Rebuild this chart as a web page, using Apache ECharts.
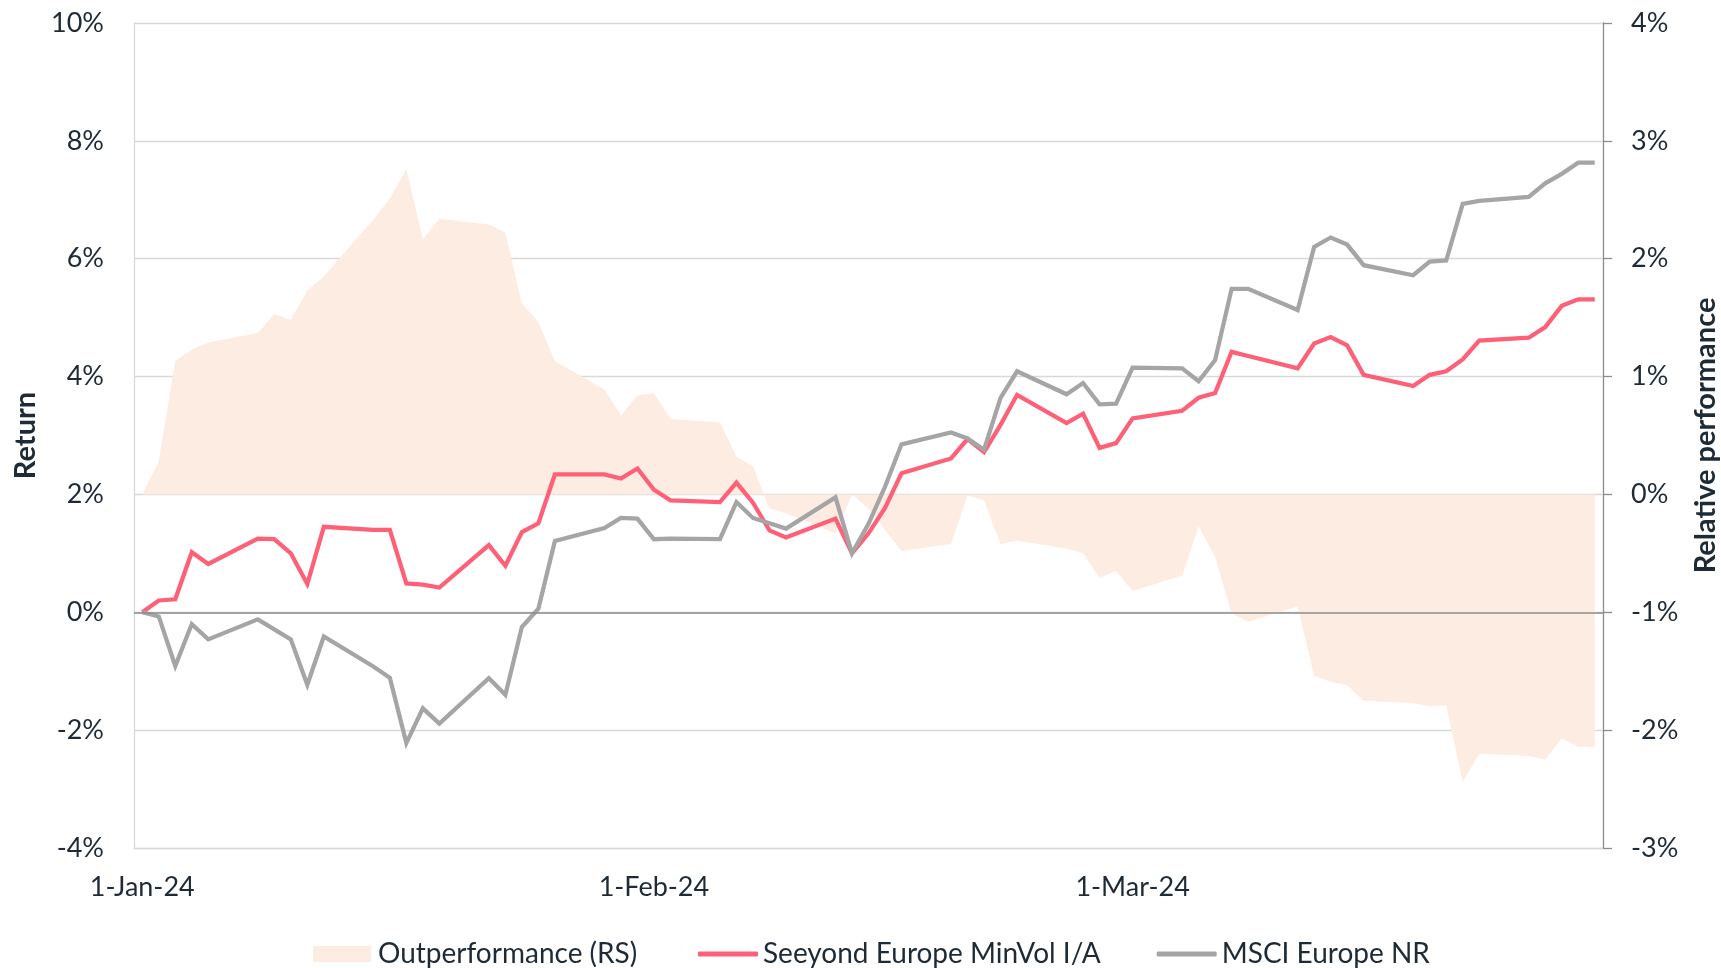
<!DOCTYPE html>
<html><head><meta charset="utf-8">
<script src="https://cdn.jsdelivr.net/npm/echarts@6/dist/echarts.min.js"></script>
<style>html,body{margin:0;padding:0;background:#fff}#c{width:1721px;height:968px}</style>
</head><body><div id="c"></div>
<script>
// ---- data ----
const dates = [
 '2024-01-01','2024-01-02','2024-01-03','2024-01-04','2024-01-05',
 '2024-01-08','2024-01-09','2024-01-10','2024-01-11','2024-01-12',
 '2024-01-15','2024-01-16','2024-01-17','2024-01-18','2024-01-19',
 '2024-01-22','2024-01-23','2024-01-24','2024-01-25','2024-01-26',
 '2024-01-29','2024-01-30','2024-01-31','2024-02-01','2024-02-02',
 '2024-02-05','2024-02-06','2024-02-07','2024-02-08','2024-02-09',
 '2024-02-12','2024-02-13','2024-02-14','2024-02-15','2024-02-16',
 '2024-02-19','2024-02-20','2024-02-21','2024-02-22','2024-02-23',
 '2024-02-26','2024-02-27','2024-02-28','2024-02-29','2024-03-01',
 '2024-03-04','2024-03-05','2024-03-06','2024-03-07','2024-03-08',
 '2024-03-11','2024-03-12','2024-03-13','2024-03-14','2024-03-15',
 '2024-03-18','2024-03-19','2024-03-20','2024-03-21','2024-03-22',
 '2024-03-25','2024-03-26','2024-03-27','2024-03-28','2024-03-29'
];
const seeyond = [
 0.00,0.20,0.22,1.02,0.82,
 1.25,1.24,1.00,0.48,1.45,
 1.40,1.40,0.49,0.47,0.42,
 1.14,0.79,1.36,1.51,2.34,
 2.34,2.27,2.44,2.08,1.90,
 1.87,2.20,1.86,1.39,1.27,
 1.59,1.00,1.34,1.77,2.36,
 2.61,2.94,2.72,3.18,3.69,
 3.21,3.37,2.79,2.87,3.29,
 3.42,3.64,3.72,4.42,4.35,
 4.14,4.56,4.67,4.53,4.03,
 3.84,4.03,4.09,4.29,4.61,
 4.66,4.84,5.20,5.31,5.31
];
const msci = [
 0.00,-0.07,-0.91,-0.20,-0.46,
 -0.12,-0.29,-0.46,-1.23,-0.41,
 -0.92,-1.11,-2.22,-1.63,-1.89,
 -1.12,-1.40,-0.25,0.06,1.21,
 1.43,1.60,1.59,1.24,1.25,
 1.24,1.87,1.60,1.51,1.42,
 1.95,1.00,1.50,2.13,2.85,
 3.05,2.95,2.76,3.64,4.09,
 3.70,3.89,3.53,3.54,4.15,
 4.14,3.92,4.28,5.49,5.49,
 5.13,6.20,6.36,6.24,5.89,
 5.72,5.95,5.97,6.93,6.98,
 7.05,7.28,7.44,7.63,7.63
];
const outperformance = [
 0.00,0.28,1.13,1.23,1.29,
 1.37,1.53,1.48,1.73,1.85,
 2.33,2.51,2.76,2.16,2.34,
 2.29,2.22,1.62,1.46,1.13,
 0.89,0.67,0.84,0.86,0.64,
 0.61,0.32,0.24,-0.12,-0.16,
 -0.33,0.00,-0.12,-0.30,-0.48,
 -0.42,-0.01,-0.05,-0.42,-0.39,
 -0.46,-0.50,-0.71,-0.65,-0.82,
 -0.69,-0.27,-0.53,-1.01,-1.08,
 -0.95,-1.54,-1.59,-1.62,-1.75,
 -1.77,-1.80,-1.79,-2.44,-2.20,
 -2.22,-2.25,-2.07,-2.14,-2.14
];
const xTickDates = ['2024-01-01','2024-02-01','2024-03-01'];
const xTickLabels = ['1-Jan-24','1-Feb-24','1-Mar-24'];
const xRange = ['2024-01-01','2024-03-30'];
const seriesNames = ['Outperformance (RS)','Seeyond Europe MinVol I/A','MSCI Europe NR'];

// ---- helpers: x is measured in days since the start of the range; each day's point sits mid-day ----
function utc(s) { const p = s.split('-').map(Number); return Date.UTC(p[0], p[1]-1, p[2]); }
const DAY = 86400000;
const t0 = utc(xRange[0]);
function dayPos(s) { return (utc(s) - t0) / DAY + 0.5; }
const tickVals = xTickDates.map(dayPos);
function pts(arr) { return dates.map((d, i) => [dayPos(d), arr[i]]); }

const TXT = '#1e2b37';
const FONT = 'Lato';
const FS = 27;
const LFS = 28;
const RED = '#fe6078';
const GREY = '#a5a5a5';
const PEACH = '#fdece2';

const chart = echarts.init(document.getElementById('c'), null, {renderer: 'canvas'});
chart.setOption({
  animation: false,
  backgroundColor: '#ffffff',
  textStyle: {fontFamily: FONT},
  grid: {left: 134, right: 118, top: 23, bottom: 120, containLabel: false, outerBoundsMode: 'none'},
  legend: [
    {
      left: 308, top: 935,
      itemWidth: 58, itemHeight: 16, itemGap: 58,
      textStyle: {fontSize: LFS, color: TXT, fontFamily: FONT, padding: [0, 0, 0, 2]},
      data: [{name: seriesNames[0], icon: 'rect'}]
    },
    {
      left: 693, top: 935,
      itemWidth: 60, itemHeight: 5, itemGap: 56,
      textStyle: {fontSize: LFS, color: TXT, fontFamily: FONT},
      data: [{name: seriesNames[1], icon: 'roundRect'}, {name: seriesNames[2], icon: 'roundRect'}]
    }
  ],
  xAxis: {
    type: 'value',
    min: 0, max: (utc(xRange[1]) - t0) / DAY,
    axisLine: {show: true, onZero: false, lineStyle: {color: '#d9d9d9', width: 1.3}},
    axisTick: {show: false},
    splitLine: {show: false},
    axisLabel: {
      customValues: tickVals,
      formatter: function (v) {
        let best = 0;
        for (let i = 1; i < tickVals.length; i++) if (Math.abs(tickVals[i] - v) < Math.abs(tickVals[best] - v)) best = i;
        return xTickLabels[best];
      },
      fontSize: FS, color: TXT, fontFamily: FONT, margin: 26, hideOverlap: false
    }
  },
  yAxis: [
    {
      type: 'value', position: 'left', min: -4, max: 10, interval: 2,
      axisLine: {show: true, lineStyle: {color: '#d9d9d9', width: 1.3}},
      axisTick: {show: false},
      splitLine: {show: true, lineStyle: {color: '#d9d9d9', width: 1.3}},
      axisLabel: {formatter: '{value}%', fontSize: FS, color: TXT, fontFamily: FONT, margin: 30},
      name: 'Return', nameLocation: 'middle', nameRotate: 90, nameGap: 91,
      nameTextStyle: {fontSize: 29, fontWeight: 'bold', color: TXT, fontFamily: FONT}
    },
    {
      type: 'value', position: 'right', min: -3, max: 4, interval: 1,
      axisLine: {show: true, lineStyle: {color: '#8c8c8c', width: 1.3}},
      axisTick: {show: true, inside: false, length: 9, lineStyle: {color: '#8c8c8c', width: 1.3}},
      splitLine: {show: false},
      axisLabel: {formatter: '{value}%', fontSize: FS, color: TXT, fontFamily: FONT, margin: 28},
      name: 'Relative performance', nameLocation: 'middle', nameRotate: 90, nameGap: 88,
      nameTextStyle: {fontSize: 29, fontWeight: 'bold', color: TXT, fontFamily: FONT}
    }
  ],
  series: [
    {
      name: seriesNames[0], type: 'line', yAxisIndex: 1, data: pts(outperformance),
      symbol: 'none', color: PEACH,
      lineStyle: {width: 0, opacity: 0},
      areaStyle: {color: PEACH, opacity: 1},
      z: 1, silent: true
    },
    {
      name: seriesNames[1], type: 'line', yAxisIndex: 0, data: pts(seeyond),
      symbol: 'none', color: RED,
      lineStyle: {width: 4.25, color: RED, join: 'miter'},
      z: 3, silent: true,
      markLine: {
        silent: true, symbol: 'none', label: {show: false},
        lineStyle: {color: '#8c8c8c', width: 1.5, type: 'solid'},
        data: [{yAxis: 0}]
      }
    },
    {
      name: seriesNames[2], type: 'line', yAxisIndex: 0, data: pts(msci),
      symbol: 'none', color: GREY,
      lineStyle: {width: 4.25, color: GREY, join: 'miter'},
      z: 4, silent: true
    }
  ]
});
</script>
</body></html>
